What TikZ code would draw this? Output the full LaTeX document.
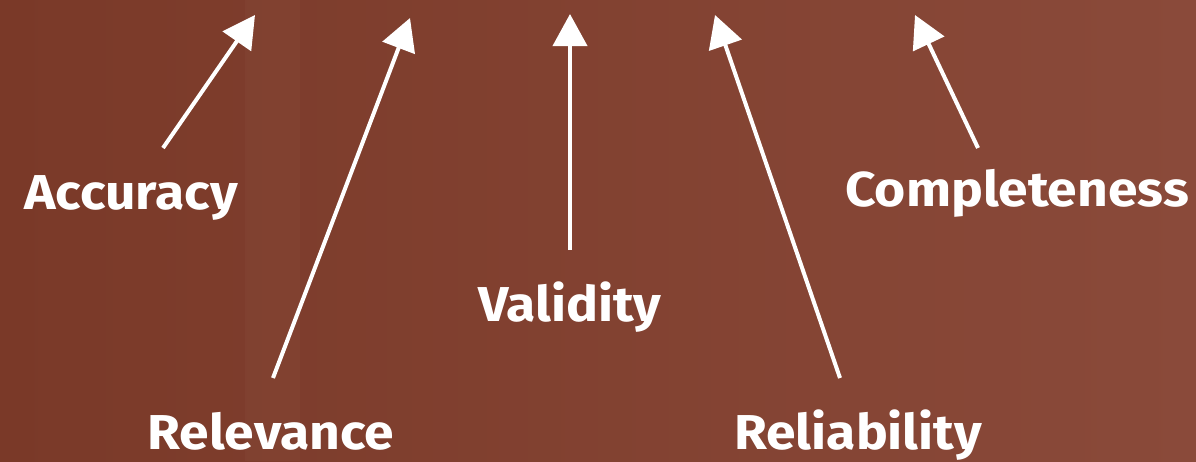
\documentclass[tikz,border=0pt]{standalone}
\usepackage{fontspec}
\setmainfont{Fira Sans}[FakeStretch=1.09]
\usetikzlibrary{arrows.meta}
\definecolor{bgdark}{RGB}{122,57,40}
\definecolor{bglight}{RGB}{138,74,58}
\begin{document}
\begin{tikzpicture}[x=1pt,y=-1pt,
  label/.style={text=white,font=\fontsize{49}{49}\selectfont\bfseries,inner sep=0pt,anchor=base},
  pointer/.style={draw=white,line width=4pt,-{Triangle[length=32pt,width=34pt]}}]
  % backdrop
  \shade[left color=bgdark,right color=bglight] (0,0) rectangle (1196,461);
  \fill[white,opacity=0.025] (245,0) rectangle (300,461);
  \useasboundingbox (0,0) rectangle (1196,461);
  % labels
  \node[label] (acc) at (131,209) {Accuracy};
  \node[label] (rel) at (271,449) {Relevance};
  \node[label] (val) at (570,321) {Validity};
  \node[label] (rlb) at (858,449) {Reliability};
  \node[label] (cmp) at (1017,206) {Completeness};
  % arrow tails and tips
  \coordinate (accA) at (163,148); \coordinate (accB) at (255,15);
  \coordinate (relA) at (273,378); \coordinate (relB) at (410,18);
  \coordinate (valA) at (570,250); \coordinate (valB) at (570,14);
  \coordinate (rlbA) at (840,378); \coordinate (rlbB) at (715,15);
  \coordinate (cmpA) at (978,148); \coordinate (cmpB) at (915,15);
  \draw[pointer] (accA) -- (accB);
  \draw[pointer] (relA) -- (relB);
  \draw[pointer] (valA) -- (valB);
  \draw[pointer] (rlbA) -- (rlbB);
  \draw[pointer] (cmpA) -- (cmpB);
\end{tikzpicture}
\end{document}
